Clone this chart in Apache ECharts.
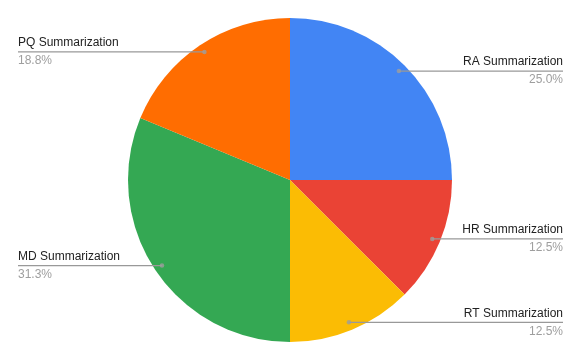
<!DOCTYPE html>
<html>
<head>
<meta charset="utf-8">
<script src="https://cdn.jsdelivr.net/npm/echarts@6/dist/echarts.min.js"></script>
<style>html,body{margin:0;padding:0;background:#fff}#c{width:581px;height:360px}</style>
</head>
<body>
<div id="c"></div>
<script>
var categories = ['RA Summarization', 'HR Summarization', 'RT Summarization', 'MD Summarization', 'PQ Summarization'];
var values = [4, 2, 2, 5, 3];
var colors = ['#4285f4', '#ea4335', '#fbbc04', '#34a853', '#ff6d01'];

var chart = echarts.init(document.getElementById('c'), null, {renderer: 'canvas'});
var W = 581;
var CENTER = [290, 180];
var R = 162;
var RL = 154;
var total = values.reduce(function (a, b) { return a + b; }, 0);

var pieData = categories.map(function (n, i) { return {name: n, value: values[i], itemStyle: {color: colors[i]}}; });
var labelData = categories.map(function (n, i) { return {name: n, value: values[i]}; });

// dot positions at the middle of each slice (derived from data)
var dots = [];
var cum = 0;
for (var i = 0; i < values.length; i++) {
  dots.push([RL, cum + values[i] / 2]);
  cum += values[i];
}

chart.setOption({
  animation: false,
  polar: {center: CENTER, radius: R},
  angleAxis: {type: 'value', min: 0, max: total, startAngle: 90, clockwise: true, show: false},
  radiusAxis: {type: 'value', min: 0, max: R, show: false},
  series: [
    {
      type: 'pie',
      center: CENTER,
      radius: R,
      startAngle: 90,
      clockwise: true,
      silent: true,
      label: {show: false},
      labelLine: {show: false},
      data: pieData,
      z: 1
    },
    {
      type: 'pie',
      center: CENTER,
      radius: RL,
      startAngle: 90,
      clockwise: true,
      silent: true,
      itemStyle: {color: 'rgba(0,0,0,0)'},
      label: {
        show: true,
        position: 'outer',
        alignTo: 'edge',
        edgeDistance: 18,
        minMargin: 4,
        formatter: function (p) { return '{n|' + p.name + '}\n{p|' + p.percent.toFixed(1) + '%}'; },
        rich: {
          n: {fontFamily: 'Liberation Sans, Arial, sans-serif', fontSize: 12, color: '#222222', lineHeight: 18},
          p: {fontFamily: 'Liberation Sans, Arial, sans-serif', fontSize: 12, color: '#9e9e9e', lineHeight: 18}
        }
      },
      labelLine: {show: true, length: 0, length2: 10, lineStyle: {color: '#999999', width: 1.2}},
      labelLayout: function (params) {
        var isLeft = params.labelRect.x < W / 2;
        var points = params.labelLinePoints;
        if (points) {
          points[1][1] = points[0][1];
          points[1][0] = points[0][0];
          points[2][1] = points[0][1];
          points[2][0] = isLeft ? params.labelRect.x : params.labelRect.x + params.labelRect.width;
        }
        return {labelLinePoints: points};
      },
      data: labelData,
      z: 2
    },
    {
      type: 'scatter',
      coordinateSystem: 'polar',
      symbol: 'circle',
      symbolSize: 4.5,
      silent: true,
      itemStyle: {color: '#9e9e9e'},
      data: dots,
      z: 3
    }
  ]
});
</script>
</body>
</html>
